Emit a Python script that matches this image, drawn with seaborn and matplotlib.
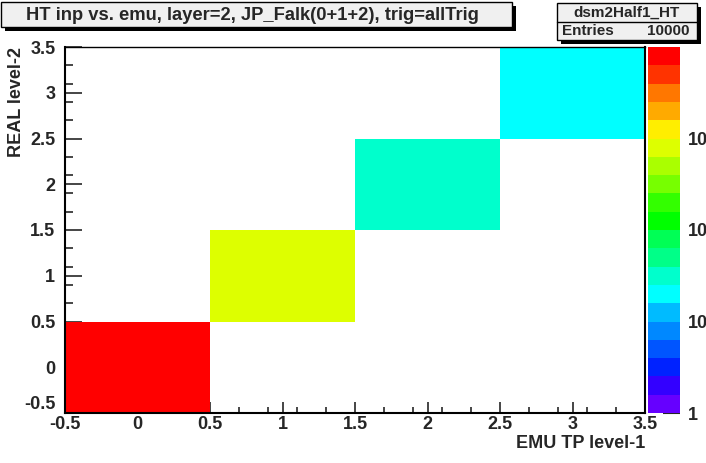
import numpy as np
import pandas as pd
import matplotlib
matplotlib.use("Agg")
import matplotlib.pyplot as plt
import seaborn as sns
from matplotlib.colors import ListedColormap, LogNorm
from matplotlib.patches import Rectangle
from matplotlib.ticker import FixedLocator, LogLocator, NullFormatter

# bin centres and filled cells (diagonal only)
emu_bins = [0, 1, 2, 3]
real_bins = [0, 1, 2, 3]
diag_counts = [9150, 800, 30, 20]
entries = 10000

x_ticks = [-0.5, 0, 0.5, 1, 1.5, 2, 2.5, 3, 3.5]
x_tick_labels = ["-0.5", "0", "0.5", "1", "1.5", "2", "2.5", "3", "3.5"]
z_ticks = [1, 10, 100, 1000]
z_tick_labels = ["1", "10", "10\u00b2", "10\u00b3"]

# ROOT-ish rainbow palette, 20 contour levels (bottom -> top)
palette = ["#6600ff", "#3300ff", "#0022ff", "#0055ff", "#0088ff",
           "#00bbff", "#00ffff", "#00ffcc", "#00ff88", "#00ff55",
           "#00ff00", "#33ff00", "#77ff00", "#aaff00", "#ddff00",
           "#ffee00", "#ffaa00", "#ff7700", "#ff3300", "#ff0000"]

sns.set_style("white")
plt.rcParams["font.family"] = ["Liberation Sans", "DejaVu Sans"]
plt.rcParams["font.weight"] = "bold"

W, H = 706, 463
fig = plt.figure(figsize=(W / 100, H / 100), dpi=100)
fig.patch.set_facecolor("white")


def fx(px):
    return px / W


def fy(py):
    return 1 - py / H


ax = fig.add_axes([fx(65), fy(413), fx(645) - fx(65), fy(47) - fy(413)])
cax = fig.add_axes([fx(648), fy(413), fx(680) - fx(648), fy(47) - fy(413)])

grid = np.zeros((len(real_bins), len(emu_bins)))
for i, c in enumerate(diag_counts):
    grid[i, i] = c
df = pd.DataFrame(grid, index=real_bins, columns=emu_bins)

sns.heatmap(df, mask=df == 0, cmap=ListedColormap(palette),
            norm=LogNorm(vmin=1, vmax=1e4), ax=ax, cbar_ax=cax,
            xticklabels=False, yticklabels=False)

ax.set_xlim(0, 4)
ax.set_ylim(0, 4)
ax.set_xlabel("")
ax.set_ylabel("")

# heatmap cell edges are at 0..4, data edges at -0.5..3.5
pos = [t + 0.5 for t in x_ticks]
ax.xaxis.set_major_locator(FixedLocator(pos))
ax.yaxis.set_major_locator(FixedLocator(pos))
ax.set_xticklabels(x_tick_labels)
ax.set_yticklabels(x_tick_labels)
minor = np.arange(0, 4.001, 0.2)
ax.xaxis.set_minor_locator(FixedLocator(minor))
ax.yaxis.set_minor_locator(FixedLocator(minor))

for s in ax.spines.values():
    s.set_visible(True)
    s.set_color("black")
    s.set_linewidth(1.5)
ax.spines["top"].set_linewidth(1.0)

ax.tick_params(axis="x", which="major", direction="in", length=8, width=1.2,
               labelsize=13, pad=2, bottom=True, top=False)
ax.tick_params(axis="x", which="minor", direction="in", length=4, width=1.2,
               bottom=True, top=False)
ax.tick_params(axis="y", which="major", direction="in", length=12, width=1.2,
               labelsize=13, pad=7, left=True, right=False)
ax.tick_params(axis="y", which="minor", direction="in", length=6, width=1.2,
               left=True, right=False)
for lab in ax.get_xticklabels() + ax.get_yticklabels():
    lab.set_fontweight("bold")
# lowest y label sits just above the corner, as in ROOT
ax.get_yticklabels()[0].set_verticalalignment("bottom")

# colour bar
cb = ax.collections[0].colorbar
cb.outline.set_visible(False)
cax.yaxis.set_major_locator(FixedLocator(z_ticks))
cax.set_yticklabels(z_tick_labels)
cax.yaxis.set_minor_locator(LogLocator(base=10, subs=range(2, 10)))
cax.yaxis.set_minor_formatter(NullFormatter())
cax.tick_params(axis="y", which="major", direction="in", length=12, width=1.5,
                labelsize=13, pad=6, right=True, left=False)
cax.tick_params(axis="y", which="minor", direction="in", length=5, width=1.5,
                right=True, left=False)
for lab in cax.get_yticklabels():
    lab.set_fontweight("bold")

# axis titles
fig.text(fx(645), fy(443), "EMU TP level-1", ha="right", va="center",
         fontsize=13, fontweight="bold")
fig.text(fx(17), fy(47), "REAL level-2", ha="center", va="top", rotation=90,
         fontsize=13, fontweight="bold")


def box(x0, y0, x1, y1, sh=4):
    fig.patches.append(Rectangle((fx(x0 + sh), fy(y1 + sh)), fx(x1) - fx(x0),
                                 fy(y0) - fy(y1), transform=fig.transFigure,
                                 facecolor="black", edgecolor="none", zorder=5))
    fig.patches.append(Rectangle((fx(x0), fy(y1)), fx(x1) - fx(x0),
                                 fy(y0) - fy(y1), transform=fig.transFigure,
                                 facecolor="#f0f0f0", edgecolor="black",
                                 linewidth=1, zorder=6))


# title box
box(1, 2, 512, 27)
fig.text(fx(252), fy(15), "HT inp vs. emu, layer=2, JP_Falk(0+1+2), trig=allTrig",
         ha="center", va="center", fontsize=13.2, fontweight="bold", zorder=7)

# stats box
box(557, 3, 697, 40)
fig.lines.append(plt.Line2D([fx(557), fx(697)], [fy(22), fy(22)],
                            transform=fig.transFigure, color="black", lw=1, zorder=7))
fig.text(fx(627), fy(12.5), "dsm2Half1_HT", ha="center", va="center",
         fontsize=11, fontweight="bold", zorder=7)
fig.text(fx(562), fy(31), "Entries", ha="left", va="center",
         fontsize=11, fontweight="bold", zorder=7)
fig.text(fx(690), fy(31), str(entries), ha="right", va="center",
         fontsize=11, fontweight="bold", zorder=7)

plt.savefig("out.png", dpi=100)
